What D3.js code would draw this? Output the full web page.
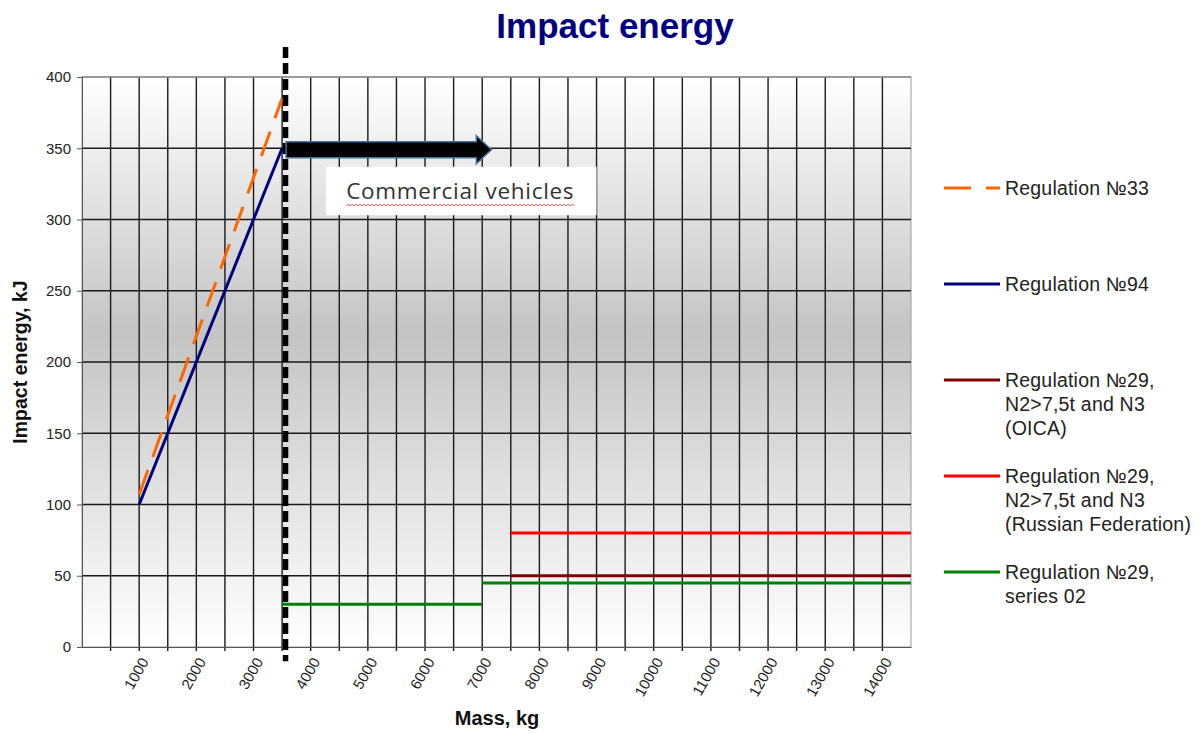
<!DOCTYPE html>
<html>
<head>
<meta charset="utf-8">
<script src="https://cdn.jsdelivr.net/npm/d3@7"></script>
<style>
  body { margin: 0; background: #fff; }
  svg { display: block; font-family: Arial, "Liberation Sans", sans-serif; }
  .axis text { fill: #222; }
</style>
</head>
<body>
<svg id="chart" width="1201" height="733"></svg>
<script>
// ---------- Data ----------
const xTicks = [1000, 2000, 3000, 4000, 5000, 6000, 7000, 8000, 9000, 10000, 11000, 12000, 13000, 14000];
const yTicks = [0, 50, 100, 150, 200, 250, 300, 350, 400];

const reg33 = [[1000, 107], [3500, 385]];
const reg94 = [[1000, 100], [3500, 350]];
const reg29oica = [[7500, 50], [14500, 50]];
const reg29rf = [[7500, 80], [14500, 80]];
const reg29s02a = [[3500, 30], [7000, 30]];
const reg29s02b = [[7000, 45], [14500, 45]];

const series = [
  { name: ["Regulation №33"], color: "#ff6600", dash: "26,14", parts: [reg33] },
  { name: ["Regulation №94"], color: "#000080", dash: null, parts: [reg94] },
  { name: ["Regulation №29,", "N2>7,5t and N3", "(OICA)"], color: "#800000", dash: null, parts: [reg29oica] },
  { name: ["Regulation №29,", "N2>7,5t and N3", "(Russian Federation)"], color: "#ff0000", dash: null, parts: [reg29rf] },
  { name: ["Regulation №29,", "series 02"], color: "#008000", dash: null, parts: [reg29s02a, reg29s02b] }
];

// annotation (in data units)
const divider = 3560;
const arrow = { x0: 3570, x1: 7160, y: 349 };
const noteBox = { x0: 4270, x1: 9000, y0: 337, y1: 303, text: "Commercial vehicles" };

// ---------- Layout ----------
const svg = d3.select("#chart");
const M = { l: 82, r: 290, t: 77, b: 86 };
const W = 1201, H = 733;

const x = d3.scaleLinear().domain([0, 14500]).range([M.l, W - M.r]);
const y = d3.scaleLinear().domain([0, 400]).range([H - M.b, M.t]);

// background gradient
const defs = svg.append("defs");
const grad = defs.append("linearGradient").attr("id", "bg").attr("x1", 0).attr("y1", 0).attr("x2", 0).attr("y2", 1);
grad.append("stop").attr("offset", "0%").attr("stop-color", "#ffffff");
grad.append("stop").attr("offset", "45%").attr("stop-color", "#c4c4c4");
grad.append("stop").attr("offset", "100%").attr("stop-color", "#ffffff");

svg.append("rect")
  .attr("x", x(0)).attr("y", y(400))
  .attr("width", x(14500) - x(0)).attr("height", y(0) - y(400))
  .attr("fill", "url(#bg)")
  .attr("stroke", "#9a9a9a");

// grid
const gx = d3.range(500, 14500, 500);
svg.append("g").selectAll("line").data(gx).join("line")
  .attr("x1", d => x(d)).attr("x2", d => x(d))
  .attr("y1", y(400)).attr("y2", y(0) + 4)
  .attr("stroke", "#1a1a1a").attr("stroke-width", 1.4);

svg.append("g").selectAll("line").data(yTicks.filter(d => d > 0)).join("line")
  .attr("x1", x(0)).attr("x2", x(14500))
  .attr("y1", d => y(d)).attr("y2", d => y(d))
  .attr("stroke", d => d === 400 ? "#8a8a8a" : "#1a1a1a").attr("stroke-width", 1.4);

// axes
const yAxis = svg.append("g").attr("class", "axis")
  .attr("transform", `translate(${x(0)},0)`)
  .call(d3.axisLeft(y).tickValues(yTicks).tickSize(5).tickPadding(6));
yAxis.selectAll("text").style("font-size", "15px");
yAxis.selectAll("line, path").attr("stroke", "#555");

const xAxis = svg.append("g").attr("class", "axis")
  .attr("transform", `translate(0,${y(0)})`)
  .call(d3.axisBottom(x).tickValues(xTicks).tickSize(0).tickSizeOuter(0).tickFormat(d3.format("d")));
xAxis.select(".domain").attr("stroke", "#555");
xAxis.selectAll("text")
  .style("font-size", "15px")
  .attr("text-anchor", "end")
  .attr("dy", "0.35em")
  .attr("transform", "translate(5,12) rotate(-60)")
  .attr("x", 0).attr("y", 0);

// series lines
const line = d3.line().x(d => x(d[0])).y(d => y(d[1]));
series.forEach(s => {
  s.parts.forEach(p => {
    svg.append("path").datum(p)
      .attr("d", line)
      .attr("fill", "none")
      .attr("stroke", s.color)
      .attr("stroke-width", 3)
      .attr("stroke-dasharray", s.dash);
  });
});

// divider (thick dashed vertical)
svg.append("line")
  .attr("x1", x(divider)).attr("x2", x(divider))
  .attr("y1", y(421)).attr("y2", y(-10))
  .attr("stroke", "#000").attr("stroke-width", 5.5)
  .attr("stroke-dasharray", "11,5");

// arrow
const ax0 = x(arrow.x0), ax1 = x(arrow.x1), ay = y(arrow.y);
const hw = 8, hh = 14, hl = 15;
svg.append("path")
  .attr("d", `M${ax0},${ay - hw} L${ax1 - hl},${ay - hw} L${ax1 - hl},${ay - hh} L${ax1},${ay} L${ax1 - hl},${ay + hh} L${ax1 - hl},${ay + hw} L${ax0},${ay + hw} Z`)
  .attr("fill", "#000").attr("stroke", "#41719c").attr("stroke-width", 1.5);

// note box
svg.append("rect")
  .attr("x", x(noteBox.x0)).attr("y", y(noteBox.y0))
  .attr("width", x(noteBox.x1) - x(noteBox.x0)).attr("height", y(noteBox.y1) - y(noteBox.y0))
  .attr("fill", "#fff");
const nt = svg.append("text")
  .attr("x", x(noteBox.x0) + 20).attr("y", y(noteBox.y0) + 32)
  .attr("fill", "#333")
  .style("font-family", "'Open Sans', 'Noto Sans', sans-serif")
  .style("font-size", "22.5px")
  .style("letter-spacing", "0.7px")
  .text(noteBox.text);
// spell-check squiggle
const bb = nt.node().getBBox();
const sqY = bb.y + bb.height;
let sq = `M${bb.x},${sqY}`;
for (let px = bb.x; px < bb.x + bb.width - 2; px += 4) sq += ` l2,-1.5 l2,1.5`;
svg.append("path").attr("d", sq).attr("fill", "none").attr("stroke", "#e03030").attr("stroke-width", 0.8);

// title + axis titles
svg.append("text").attr("x", 615).attr("y", 38).attr("text-anchor", "middle")
  .attr("fill", "#000080").style("font-size", "35px").style("font-weight", "bold")
  .text("Impact energy");

svg.append("text").attr("transform", `translate(27,${y(200)}) rotate(-90)`).attr("text-anchor", "middle")
  .attr("fill", "#111").style("font-size", "19.5px").style("font-weight", "bold")
  .text("Impact energy, kJ");

svg.append("text").attr("x", 497).attr("y", 725).attr("text-anchor", "middle")
  .attr("fill", "#111").style("font-size", "20px").style("font-weight", "bold")
  .text("Mass, kg");

// legend
const legY = [188, 284, 380, 476, 572];
const leg = svg.append("g");
series.forEach((s, i) => {
  const g = leg.append("g").attr("transform", `translate(944,${legY[i]})`);
  g.append("line").attr("x1", 0).attr("x2", 56).attr("y1", 0).attr("y2", 0)
    .attr("stroke", s.color).attr("stroke-width", 3)
    .attr("stroke-dasharray", s.dash ? "27,15" : null);
  const t = g.append("text").attr("x", 61).attr("y", 7).attr("fill", "#222")
    .style("font-size", "19.5px").style("letter-spacing", "0.2px");
  s.name.forEach((ln, k) => t.append("tspan").attr("x", 61).attr("dy", k === 0 ? 0 : 24).text(ln));
});
</script>
</body>
</html>
